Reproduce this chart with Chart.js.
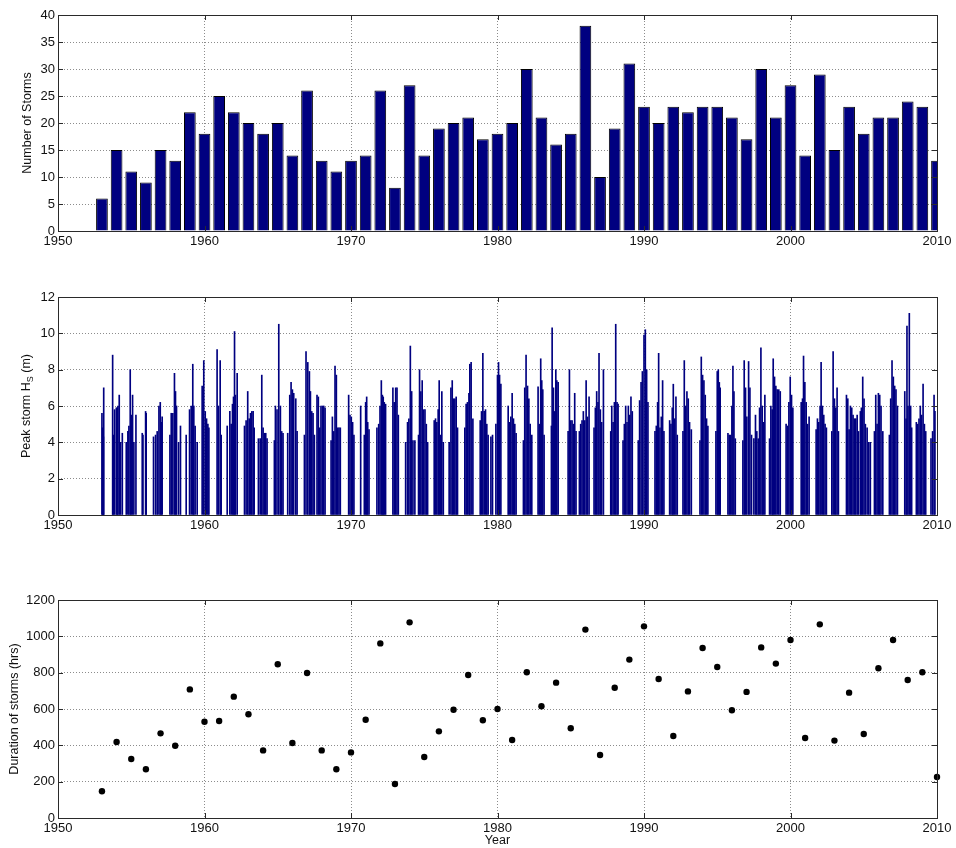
<!DOCTYPE html>
<html>
<head>
<meta charset="utf-8">
<script src="https://cdn.jsdelivr.net/npm/chart.js@4.4.1/dist/chart.umd.min.js"></script>
<style>
  html, body { margin: 0; padding: 0; background: #fff; }
  #wrap { position: relative; width: 956px; height: 848px; }
  canvas { position: absolute; left: 0; }
</style>
</head>
<body>
<div id="wrap">
  <canvas id="countChart" style="top:0px" width="956" height="262"></canvas>
  <canvas id="peakChart" style="top:270px" width="956" height="275"></canvas>
  <canvas id="durationChart" style="top:570px" width="956" height="278"></canvas>
</div>
<script>
// Storms per year (top panel) and total storm duration per year (bottom panel)
const years = [1953, 1954, 1955, 1956, 1957, 1958, 1959, 1960, 1961, 1962, 1963, 1964, 1965, 1966,
  1967, 1968, 1969, 1970, 1971, 1972, 1973, 1974, 1975, 1976, 1977, 1978, 1979, 1980, 1981, 1982,
  1983, 1984, 1985, 1986, 1987, 1988, 1989, 1990, 1991, 1992, 1993, 1994, 1995, 1996, 1997, 1998,
  1999, 2000, 2001, 2002, 2003, 2004, 2005, 2006, 2007, 2008, 2009, 2010];
const stormCounts = [6, 15, 11, 9, 15, 13, 22, 18, 25, 22, 20, 18, 20, 14,
  26, 13, 11, 13, 14, 26, 8, 27, 14, 19, 20, 21, 17, 18, 20, 30,
  21, 16, 18, 38, 10, 19, 31, 23, 20, 23, 22, 23, 23, 21, 17, 30,
  21, 27, 14, 29, 15, 23, 18, 21, 21, 24, 23, 13];
const stormHours = [147, 418, 325, 268, 466, 398, 708, 530, 534, 668, 571, 372, 846, 413,
  798, 372, 268, 361, 541, 961, 187, 1077, 336, 477, 596, 787, 538, 600, 429, 802,
  615, 745, 494, 1037, 347, 717, 872, 1055, 765, 451, 697, 936, 831, 593, 694, 939,
  850, 980, 440, 1066, 426, 690, 462, 824, 980, 760, 802, 226];

// Peak Hs of individual storms: [date in decimal years, Hs in m]
const peaks1950s = [
  [1953.00,5.6],[1953.04,4.8],[1953.08,4.6],[1953.10,4.3],[1953.12,7.0],
  [1953.73,8.8],[1953.77,4.4],[1953.86,5.8],[1953.98,5.9],[1954.05,5.9],[1954.09,6.0],[1954.18,6.6],[1954.27,4.0],[1954.39,4.5],
  [1954.66,4.0],[1954.77,4.6],[1954.84,4.9],[1954.93,8.0],[1955.00,5.5],[1955.09,6.6],[1955.18,4.0],[1955.32,5.5],
  [1955.75,4.5],[1955.80,4.4],[1955.98,5.7],[1956.02,5.6],
  [1956.52,4.3],[1956.66,4.4],[1956.77,4.6],[1956.89,6.0],[1956.98,6.2],[1957.05,5.1],[1957.11,5.4],
  [1957.64,4.4],[1957.73,5.6],[1957.84,5.6],[1957.95,7.8],[1958.02,6.8],[1958.09,6.0],[1958.23,4.0],[1958.36,4.9],
  [1958.75,4.4],[1958.98,5.8],[1959.09,6.0],[1959.20,8.3],[1959.27,6.0],[1959.36,4.9],[1959.50,4.0],
  [1959.84,7.1],[1959.95,8.5]
];
const peaks1960s = [
  [1960.05,5.7],[1960.14,5.3],[1960.23,5.0],[1960.30,4.8],
  [1960.86,9.1],[1960.95,6.0],[1961.07,8.5],[1961.14,4.4],
  [1961.55,4.9],[1961.73,5.7],[1961.82,5.0],[1961.91,6.1],[1961.98,6.5],[1962.05,10.1],[1962.11,6.6],[1962.23,7.8],
  [1962.73,4.9],[1962.84,5.2],[1962.95,6.8],[1963.05,5.3],[1963.14,5.6],[1963.23,5.7],[1963.32,5.7],[1963.39,4.8],
  [1963.68,4.2],[1963.80,4.2],[1963.91,7.7],[1964.00,4.8],[1964.09,4.5],[1964.18,4.5],[1964.27,4.2],
  [1964.77,4.1],[1964.84,6.0],[1964.95,5.8],[1965.07,10.5],[1965.18,6.0],[1965.27,4.6],[1965.36,4.5],
  [1965.68,4.5],[1965.82,6.6],[1965.91,7.3],[1966.00,6.9],[1966.09,6.7],[1966.23,6.4],[1966.32,4.6],
  [1966.82,4.4],[1966.93,9.0],[1967.05,8.4],[1967.16,7.9],[1967.23,6.8],[1967.32,5.7],[1967.41,5.6],[1967.50,4.4],
  [1967.68,6.6],[1967.77,6.5],[1967.86,4.8],[1967.95,6.0],[1968.05,6.0],[1968.14,6.0],[1968.23,5.9],
  [1968.64,4.1],[1968.73,5.4],[1968.82,4.6],[1968.91,8.2],[1969.00,7.7],[1969.09,4.8],[1969.18,4.8],[1969.27,4.8],
  [1969.84,6.6],[1969.93,5.5]
];
const peaks1970s = [
  [1970.02,5.4],[1970.11,5.1],[1970.20,4.4],
  [1970.66,6.0],[1970.91,4.4],[1971.00,6.2],[1971.07,6.5],[1971.14,5.1],[1971.23,4.7],
  [1971.77,4.8],[1971.89,5.0],[1971.98,6.0],[1972.07,7.4],[1972.14,6.6],[1972.20,6.5],[1972.27,6.2],[1972.36,6.1],
  [1972.86,7.0],[1972.95,6.2],[1973.05,7.0],[1973.14,7.0],[1973.23,5.5],
  [1973.73,4.0],[1973.86,5.1],[1973.95,5.3],[1974.05,9.3],[1974.14,6.8],[1974.23,4.1],[1974.36,4.1],
  [1974.61,4.4],[1974.68,8.0],[1974.77,6.8],[1974.86,7.4],[1974.95,5.8],[1975.05,5.8],[1975.14,5.0],[1975.23,4.0],
  [1975.68,5.2],[1975.77,5.3],[1975.86,5.1],[1975.95,5.8],[1976.02,7.4],[1976.11,4.4],[1976.20,6.8],[1976.30,4.0],
  [1976.70,4.0],[1976.82,7.0],[1976.91,7.4],[1977.00,6.4],[1977.09,6.4],[1977.18,6.5],[1977.27,4.8],
  [1977.77,4.8],[1977.86,6.1],[1977.95,6.2],[1978.05,6.7],[1978.11,8.3],[1978.20,8.4],[1978.32,5.3],
  [1978.82,5.2],[1978.91,5.7],[1979.00,8.9],[1979.09,5.7],[1979.18,5.8],[1979.27,5.0],[1979.36,4.4],[1979.55,4.3],[1979.66,4.4],
  [1979.89,5.0]
];
const peaks1980s = [
  [1980.00,7.7],[1980.07,8.4],[1980.14,7.7],[1980.23,7.2],
  [1980.73,6.0],[1980.82,5.1],[1980.91,5.4],[1981.00,6.7],[1981.09,5.3],[1981.18,5.0],[1981.27,4.5],
  [1981.77,4.1],[1981.86,7.0],[1981.95,8.8],[1982.05,7.1],[1982.14,6.4],[1982.23,5.0],[1982.34,4.4],
  [1982.77,7.05],[1982.86,5.0],[1982.95,8.6],[1983.02,7.4],[1983.09,6.9],[1983.18,4.4],
  [1983.68,4.9],[1983.73,10.3],[1983.82,7.0],[1983.91,5.7],[1983.98,8.0],[1984.05,7.4],[1984.14,7.3],
  [1984.82,4.6],[1984.91,8.0],[1985.00,5.2],[1985.09,5.2],[1985.18,5.0],[1985.27,6.7],[1985.36,4.6],
  [1985.59,4.6],[1985.68,5.0],[1985.77,5.2],[1985.86,5.7],[1985.95,5.2],[1986.05,7.4],[1986.14,5.4],[1986.25,6.5],
  [1986.59,4.8],[1986.68,5.9],[1986.77,6.8],[1986.86,6.2],[1986.93,8.9],[1987.02,5.8],[1987.11,5.1],[1987.23,8.0],
  [1987.73,4.6],[1987.80,6.0],[1987.89,5.1],[1987.98,6.2],[1988.07,10.5],[1988.16,6.2],[1988.23,6.1],
  [1988.57,4.1],[1988.66,5.0],[1988.75,6.0],[1988.84,5.1],[1988.93,6.0],[1989.02,5.5],[1989.11,6.5],[1989.20,5.7],
  [1989.61,4.1],[1989.70,6.3],[1989.80,7.3],[1989.89,7.9]
];
const peaks1990s = [
  [1990.00,9.9],[1990.09,10.2],[1990.18,8.0],[1990.27,6.2],
  [1990.75,4.6],[1990.84,4.9],[1990.93,6.2],[1991.00,8.9],[1991.09,4.8],[1991.18,5.4],[1991.27,7.4],[1991.36,4.6],
  [1991.75,5.2],[1991.84,5.0],[1991.93,5.9],[1992.00,7.2],[1992.09,5.3],[1992.18,6.5],[1992.27,4.4],
  [1992.66,4.6],[1992.75,8.5],[1992.84,6.0],[1992.93,6.8],[1993.02,6.4],[1993.11,5.1],[1993.23,4.7],
  [1993.82,4.1],[1993.91,8.7],[1994.00,7.7],[1994.09,7.4],[1994.18,6.6],[1994.27,5.3],[1994.36,4.9],
  [1994.91,4.6],[1995.00,7.9],[1995.07,8.0],[1995.14,7.3],[1995.20,7.0],
  [1995.73,4.5],[1995.82,4.4],[1995.91,4.4],[1996.00,6.0],[1996.07,8.2],[1996.14,6.8],[1996.23,4.2],
  [1996.75,4.1],[1996.84,8.5],[1996.93,7.0],[1997.02,5.4],[1997.14,8.45],[1997.23,7.0],[1997.34,4.4],[1997.50,4.2],
  [1997.61,5.5],[1997.70,4.6],[1997.80,4.2],[1997.89,5.9],[1997.98,9.2],[1998.07,6.0],[1998.16,5.1],[1998.25,6.6],
  [1998.57,4.2],[1998.66,6.0],[1998.75,5.8],[1998.82,8.6],[1998.91,7.6],[1999.00,7.1],[1999.09,6.9],[1999.20,6.9],[1999.30,6.8],
  [1999.70,5.0],[1999.80,4.9],[1999.89,6.2],[1999.98,7.6]
];
const peaks2000s = [
  [2000.07,6.6],[2000.16,5.9],
  [2000.73,6.2],[2000.82,6.4],[2000.89,8.75],[2000.98,7.3],[2001.07,6.2],[2001.16,5.0],[2001.27,5.4],
  [2001.75,4.7],[2001.84,5.3],[2001.93,5.1],[2002.02,6.0],[2002.09,8.4],[2002.18,6.0],[2002.27,5.5],[2002.36,5.0],[2002.45,4.8],
  [2002.82,4.6],[2002.91,9.0],[2003.00,6.4],[2003.09,5.9],[2003.18,7.0],[2003.27,4.6],
  [2003.82,6.6],[2003.91,6.4],[2004.00,4.7],[2004.09,6.0],[2004.18,5.9],[2004.27,5.5],[2004.36,5.3],[2004.45,5.3],[2004.55,5.5],[2004.64,4.6],
  [2004.77,5.7],[2004.84,5.9],[2004.93,7.6],[2005.02,6.4],[2005.11,5.0],[2005.23,4.8],[2005.34,4.0],[2005.45,4.0],
  [2005.73,4.6],[2005.82,6.6],[2005.91,5.0],[2006.00,6.7],[2006.09,6.6],[2006.18,6.0],[2006.30,4.6],
  [2006.75,4.4],[2006.84,6.4],[2006.93,8.5],[2007.02,7.6],[2007.11,7.1],[2007.20,6.9],[2007.30,6.0],
  [2007.80,6.8],[2007.89,5.3],[2007.95,10.4],[2008.02,6.0],[2008.11,11.1],[2008.20,6.0],[2008.27,4.8],
  [2008.59,5.1],[2008.68,5.0],[2008.77,5.3],[2008.86,6.0],[2008.95,5.5],[2009.05,7.2],[2009.14,5.0],[2009.23,4.6],
  [2009.59,4.2],[2009.70,4.6],[2009.80,6.6],[2009.86,5.7]
];

const yearTicks = [1950, 1960, 1970, 1980, 1990, 2000, 2010];

const navy = "#000080";
const gridColor = "rgba(0, 0, 0, 0.45)";
const textColor = "#111";
const fontFamily = "'Liberation Sans', Arial, Helvetica, sans-serif";

Chart.defaults.font.family = fontFamily;
Chart.defaults.font.size = 13;
Chart.defaults.color = textColor;
Chart.defaults.animation = false;

// MATLAB-style box with inward tick marks
const matlabBox = {
  id: "matlabBox",
  afterDraw(chart) {
    const { ctx, chartArea: a, scales } = chart;
    const len = 5;
    ctx.save();
    ctx.strokeStyle = "#2a2a2a";
    ctx.lineWidth = 1;
    ctx.strokeRect(Math.round(a.left) + 0.5, Math.round(a.top) + 0.5,
      Math.round(a.right - a.left), Math.round(a.bottom - a.top));
    ctx.beginPath();
    scales.x.ticks.forEach(t => {
      const px = Math.round(scales.x.getPixelForValue(t.value)) + 0.5;
      ctx.moveTo(px, a.bottom); ctx.lineTo(px, a.bottom - len);
      ctx.moveTo(px, a.top); ctx.lineTo(px, a.top + len);
    });
    scales.y.ticks.forEach(t => {
      const py = Math.round(scales.y.getPixelForValue(t.value)) + 0.5;
      ctx.moveTo(a.left, py); ctx.lineTo(a.left + len, py);
      ctx.moveTo(a.right, py); ctx.lineTo(a.right - len, py);
    });
    ctx.stroke();
    ctx.restore();
  }
};

// y title with subscript for the middle panel
const hsTitle = {
  id: "hsTitle",
  afterDraw(chart) {
    const { ctx, chartArea: a } = chart;
    const main = "12.5px " + fontFamily;
    const sub = "9px " + fontFamily;
    ctx.save();
    ctx.translate(27, (a.top + a.bottom) / 2);
    ctx.rotate(-Math.PI / 2);
    ctx.fillStyle = textColor;
    ctx.textBaseline = "middle";
    ctx.font = main;
    const w1 = ctx.measureText("Peak storm H").width;
    const w3 = ctx.measureText(" (m)").width;
    ctx.font = sub;
    const w2 = ctx.measureText("S").width;
    let x = -(w1 + w2 + w3) / 2;
    ctx.font = main;
    ctx.fillText("Peak storm H", x, 0);
    x += w1;
    ctx.font = sub;
    ctx.fillText("S", x, 4);
    x += w2;
    ctx.font = main;
    ctx.fillText(" (m)", x, 0);
    ctx.restore();
  }
};

function xAxis(axisHeight, title) {
  return {
    type: "linear",
    min: 1950,
    max: 2010,
    offset: false,
    afterBuildTicks: s => { s.ticks = yearTicks.map(v => ({ value: v })); },
    afterFit: s => { s.height = axisHeight; },
    ticks: { padding: 3, color: textColor, callback: v => String(v) },
    grid: { color: gridColor, drawTicks: false, offset: false },
    border: { display: false, dash: [1, 2] },
    title: title ? { display: true, text: title, font: { size: 12.5 }, padding: { top: 0, bottom: 0 }, color: textColor } : { display: false }
  };
}

function yAxis(max, step, title, titlePad) {
  return {
    type: "linear",
    min: 0,
    max: max,
    afterFit: s => { s.width = 58; },
    ticks: { stepSize: step, padding: 3, color: textColor, callback: v => String(v) },
    grid: { color: gridColor, drawTicks: false },
    border: { display: false, dash: [1, 2] },
    title: title ? { display: true, text: title, font: { size: 12.5 }, padding: { top: titlePad, bottom: 0 }, color: textColor } : { display: false }
  };
}

const basePlugins = { legend: { display: false }, tooltip: { enabled: false } };

new Chart(document.getElementById("countChart"), {
  type: "bar",
  data: {
    datasets: [{
      data: years.map((y, i) => ({ x: y, y: stormCounts[i] })),
      backgroundColor: navy,
      borderColor: "#000",
      borderWidth: 1,
      barPercentage: 0.8,
      categoryPercentage: 1.0
    }]
  },
  options: {
    responsive: false,
    devicePixelRatio: 1,
    layout: { padding: { top: 15, right: 19, left: 0, bottom: 0 } },
    plugins: basePlugins,
    scales: { x: xAxis(31, null), y: yAxis(40, 5, "Number of Storms", 20) }
  },
  plugins: [matlabBox]
});

new Chart(document.getElementById("peakChart"), {
  type: "bar",
  data: {
    datasets: [{
      data: [].concat(peaks1950s, peaks1960s, peaks1970s, peaks1980s, peaks1990s, peaks2000s)
        .map(p => ({ x: p[0], y: p[1] })),
      backgroundColor: navy,
      borderWidth: 0,
      barThickness: 1
    }]
  },
  options: {
    responsive: false,
    devicePixelRatio: 1,
    layout: { padding: { top: 27, right: 19, left: 0, bottom: 0 } },
    plugins: basePlugins,
    scales: { x: xAxis(30, null), y: yAxis(12, 2, null, 0) }
  },
  plugins: [matlabBox, hsTitle]
});

new Chart(document.getElementById("durationChart"), {
  type: "scatter",
  data: {
    datasets: [{
      data: years.map((y, i) => ({ x: y, y: stormHours[i] })),
      backgroundColor: "#000",
      borderWidth: 0,
      pointRadius: 3.2,
      clip: false
    }]
  },
  options: {
    responsive: false,
    devicePixelRatio: 1,
    layout: { padding: { top: 30, right: 19, left: 0, bottom: 0 } },
    plugins: basePlugins,
    scales: { x: xAxis(30, "Year"), y: yAxis(1200, 200, "Duration of storms (hrs)", 7) }
  },
  plugins: [matlabBox]
});
</script>
</body>
</html>
